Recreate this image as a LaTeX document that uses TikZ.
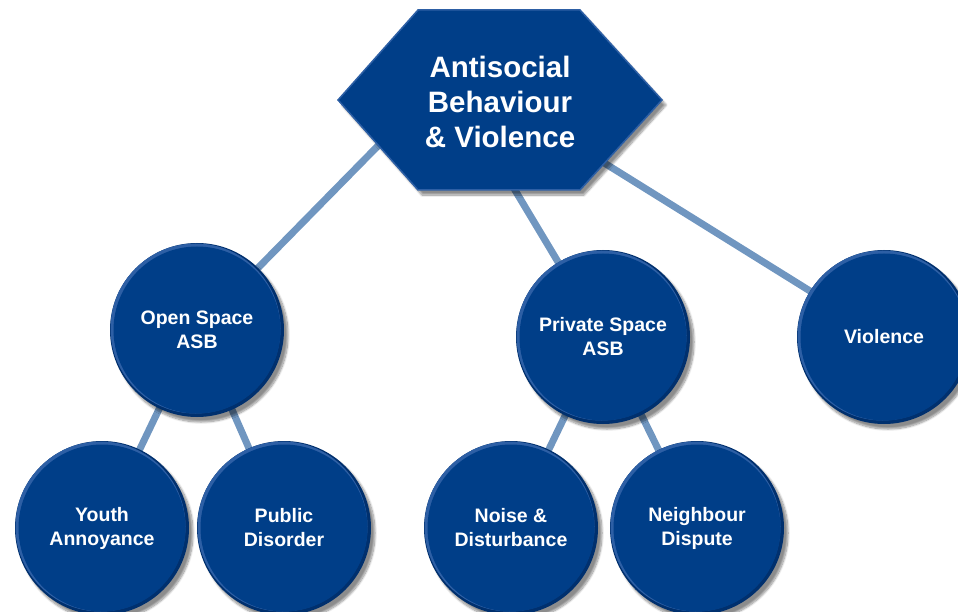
\documentclass[tikz,border=0pt]{standalone}
\usepackage{fontspec}
\setmainfont{Liberation Sans}
\usetikzlibrary{shadows.blur}
\definecolor{nodeblue}{RGB}{0,62,136}
\definecolor{rimdark}{RGB}{0,48,110}
\definecolor{rimlight}{RGB}{45,95,165}
\definecolor{linkblue}{RGB}{112,150,192}
\pgfdeclarelayer{bg}
\pgfsetlayers{bg,main}
\begin{document}
\begin{tikzpicture}[x=1pt,y=-1pt,
  bubble/.style={circle, fill=rimdark, minimum size=174pt, inner sep=0pt,
    text=white, font=\bfseries\fontsize{19.5}{24}\selectfont, align=center,
    path picture={
      \fill[rimlight] ([shift={(-1.5pt,1.5pt)}]path picture bounding box.center) circle[radius=85pt];
      \fill[nodeblue] (path picture bounding box.center) circle[radius=83.5pt];
    },
    blur shadow={shadow xshift=4pt, shadow yshift=-5pt, shadow blur steps=10, shadow opacity=45}},
  hexshape/.style={fill=nodeblue, draw=rimlight, line width=1.5pt, line join=miter,
    blur shadow={shadow xshift=4pt, shadow yshift=-5pt, shadow blur steps=10, shadow opacity=45}},
  hextext/.style={text=white, font=\bfseries\fontsize{29.5}{35}\selectfont, align=center},
  link/.style={draw=linkblue, line width=7pt}]
\useasboundingbox (0,0) rectangle (958,612);

% hexagon
\path[hexshape] (418,10) -- (580,10) -- (662,100) -- (580,190) -- (418,190) -- (338,100) -- cycle;
\node[hextext] (hex) at (500,102) {Antisocial\\Behaviour\\\& Violence};
\coordinate (h1) at (423,100);
\coordinate (h2) at (461,100);
\coordinate (h3) at (503,100);

% circles
\node[bubble] (open) at (197,330) {Open Space\\ASB};
\node[bubble] (private) at (603,337) {Private Space\\ASB};
\node[bubble] (violence) at (884,337) {Violence};
\node[bubble] (youth) at (102,528) {Youth\\Annoyance};
\node[bubble] (public) at (284,528) {Public\\Disorder};
\node[bubble] (noise) at (511,528) {Noise \&\\Disturbance};
\node[bubble] (neigh) at (697,528) {Neighbour\\Dispute};

\begin{pgfonlayer}{bg}
  \draw[link] (h1) -- (open.center);
  \draw[link] (h2) -- (private.center);
  \draw[link] (h3) -- (violence.center);
  \draw[link] (open.center) -- (youth.center);
  \draw[link] (open.center) -- (public.center);
  \draw[link] (private.center) -- (noise.center);
  \draw[link] (private.center) -- (neigh.center);
\end{pgfonlayer}
\end{tikzpicture}
\end{document}
